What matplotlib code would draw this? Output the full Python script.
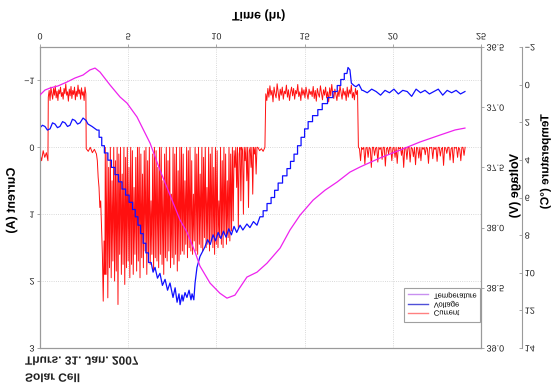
import numpy as np
import matplotlib
matplotlib.use("Agg")
import matplotlib.pyplot as plt
from matplotlib.lines import Line2D
from matplotlib.patheffects import AbstractPathEffect
from matplotlib.transforms import Affine2D
from matplotlib.text import Text

plt.rcParams["font.family"] = ["Liberation Sans", "DejaVu Sans"]

# ---- current (A): segments of values, each spread over its own time span (hr)
cur_spans = [(0.0, 0.45), (0.47, 2.6), (2.62, 3.2), (3.25, 3.68), (3.7, 12.3),
             (12.35, 12.75), (12.8, 18.0), (18.05, 24.1)]
cur_lead = [0.1, 0.2, 0.05, 0.15, 0.08, 0.2]
cur_plat1 = [-0.75, -0.85, -0.7, -0.9, -0.8, -0.72, -0.88, -0.78, -0.92, -0.74, -0.84,
             -0.7, -0.86, -0.8, -0.9, -0.76, -0.82, -0.72, -0.88, -0.8, -0.95, -0.78,
             -0.83, -0.69, -0.87, -0.77, -0.91, -0.73, -0.85, -0.79, -0.9, -0.71, -0.84,
             -0.76, -0.93, -0.8, -0.86, -0.72, -0.89, -0.78, -0.83, -0.7, -0.9, -0.8]
cur_mid = [0.02, 0.06, 0.0, 0.08, 0.03, 0.1]
cur_drop = [0.2, 0.45, 0.6, 0.9, 0.8, 1.2, 1.6, 2.3, 1.4, 1.9]
cur_switch = [0.0, 1.9, 0.1, 2.25, 0.3, 1.8, 0.0, 1.95, 0.5, 1.7, 0.0, 2.0, 0.2, 1.85, 0.0,
              2.35, 0.1, 1.6, 0.0, 1.9, 0.4, 1.75, 0.0, 2.05, 0.15, 1.8, 0.0, 1.7, 0.3, 1.95,
              0.0, 1.75, 0.05, 1.9, 0.6, 1.6, 0.15, 1.85, 0.0, 1.7, 0.0, 1.95, 0.1, 1.65, 0.4,
              1.8, 0.05, 1.55, 0.0, 1.9, 0.2, 1.7, 0.0, 1.75, 0.8, 1.6, 0.1, 1.85, 0.0, 1.65,
              0.05, 1.7, 0.3, 1.8, 0.0, 1.6, 0.0, 1.75, 0.5, 1.9, 0.1, 1.65, 0.0, 1.7, 0.2,
              1.55, 0.0, 1.8, 0.7, 1.65, 0.0, 1.75, 0.1, 1.6, 0.0, 1.85, 0.35, 1.7, 0.0, 1.6,
              0.0, 1.55, 0.1, 1.6, 0.5, 1.45, 0.0, 1.65, 0.05, 1.5, 0.0, 1.55, 0.2, 1.6, 0.7,
              1.4, 0.0, 1.55, 0.1, 1.6, 0.0, 1.45, 0.4, 1.5, 0.0, 1.55, 0.15, 1.35, 0.0, 1.5,
              0.6, 1.45, 0.0, 1.55, 0.1, 1.4, 0.0, 1.5, 0.3, 1.6, 0.0, 1.45, 0.05, 1.5, 0.8,
              1.35, 0.0, 1.45, 0.2, 1.5, 0.0, 1.3, 0.1, 1.45, 0.5, 1.35, 0.0, 1.4, 0.1, 1.25,
              0.0, 1.1, 0.05, 0.3, 0.0, 0.6, 0.0, 1.2, 0.1, 0.0, 0.8, 0.0, 0.05, 1.0, 0.0,
              0.2, 0.0, 0.5, 0.0, 0.9, 0.05, 0.0, 0.3, 0.0, 0.7, 0.0, 0.1, 0.0, 0.4, 0.0]
cur_gap = [0.0, 0.05, 0.02, 0.06, 0.0]
cur_plat2 = [-0.8, -0.7, -0.88, -0.75, -0.92, -0.78, -0.85, -0.68, -0.9, -0.8, -0.74, -0.95,
             -0.82, -0.7, -0.87, -0.78, -0.9, -0.72, -0.84, -0.8, -0.93, -0.75, -0.86, -0.7,
             -0.82, -0.9, -0.77, -0.88, -0.72, -0.85, -0.8, -0.94, -0.76, -0.83, -0.7, -0.89,
             -0.78, -0.86, -0.74, -0.9, -0.8, -0.72, -0.87, -0.79, -0.84, -0.76, -0.91, -0.73,
             -0.85, -0.69, -0.88, -0.8, -0.75, -0.92, -0.81, -0.71, -0.86, -0.78, -0.9, -0.74,
             -0.83, -0.68, -0.89, -0.77, -0.94, -0.8, -0.73, -0.87, -0.79, -0.7, -0.85, -0.76,
             -0.92, -0.82, -0.72, -0.88, -0.78, -0.84, -0.7, -0.9, -0.75, -0.86, -0.8, -0.93,
             -0.74, -0.82, -0.71, -0.88, -0.79, -0.85]
cur_tail = [0.0, 0.02, 0.2, 0.0, 0.03, 0.0, 0.25, 0.01, 0.0, 0.15, 0.0, 0.02, 0.3, 0.0, 0.0,
            0.12, 0.01, 0.0, 0.22, 0.0, 0.03, 0.0, 0.18, 0.0, 0.0, 0.28, 0.02, 0.0, 0.1, 0.0,
            0.0, 0.2, 0.01, 0.0, 0.15, 0.0, 0.24, 0.0, 0.02, 0.0, 0.12, 0.0, 0.3, 0.01, 0.0,
            0.18, 0.0, 0.0, 0.22, 0.0, 0.02, 0.14, 0.0, 0.26, 0.0, 0.01, 0.16, 0.0, 0.2, 0.0,
            0.03, 0.0, 0.11, 0.0, 0.02, 0.24, 0.0, 0.01, 0.0, 0.17, 0.0, 0.03, 0.0, 0.21, 0.0,
            0.0, 0.13, 0.02, 0.0, 0.27, 0.0, 0.01, 0.09, 0.0, 0.0, 0.19, 0.02, 0.0, 0.23, 0.0,
            0.01, 0.0, 0.15, 0.0, 0.03, 0.2, 0.0, 0.0, 0.12, 0.0]
cur_segs = [cur_lead, cur_plat1, cur_mid, cur_drop, cur_switch, cur_gap, cur_plat2, cur_tail]

# ---- voltage (V)
volt_t = [0.00, 0.14, 0.28, 0.42, 0.57, 0.71, 0.85, 0.99, 1.13, 1.28, 1.42, 1.56, 1.70, 1.84,
          1.98, 2.13, 2.27, 2.44, 2.61, 2.72, 2.95, 3.23, 3.35, 3.35, 3.50, 3.50, 3.65, 3.65,
          3.85, 3.85, 4.05, 4.05, 4.25, 4.25, 4.45, 4.45, 4.65, 4.65, 4.85, 4.85, 5.05, 5.05,
          5.25, 5.25, 5.40, 5.40, 5.55, 5.55, 5.70, 5.70, 5.85, 5.85, 6.00, 6.00, 6.15, 6.15,
          6.30, 6.41, 6.52, 6.66, 6.80, 6.94, 7.09, 7.23, 7.37, 7.54, 7.66, 7.77, 7.88, 7.94,
          8.05, 8.11, 8.22, 8.33, 8.45, 8.56, 8.62, 8.72, 8.79, 8.90, 9.07, 9.35, 9.50, 9.65,
          9.81, 9.95, 10.10, 10.25, 10.40, 10.55, 10.70, 10.85, 11.00, 11.15, 11.34, 11.50,
          11.73, 11.90, 12.10, 12.30, 12.47, 12.65, 12.65, 12.87, 12.87, 13.10, 13.10, 13.30,
          13.30, 13.50, 13.50, 13.75, 13.75, 14.00, 14.00, 14.20, 14.20, 14.40, 14.40, 14.60,
          14.60, 14.80, 14.80, 15.00, 15.00, 15.20, 15.20, 15.45, 15.45, 15.75, 15.75, 16.00,
          16.00, 16.30, 16.30, 16.60, 16.60, 16.85, 16.85, 17.05, 17.05, 17.25, 17.25, 17.40,
          17.46, 17.57, 17.65, 17.80, 17.91, 18.08, 18.25]
volt_v = [37.17, 37.15, 37.16, 37.19, 37.18, 37.13, 37.14, 37.17, 37.16, 37.12, 37.13, 37.16,
          37.15, 37.10, 37.11, 37.14, 37.13, 37.09, 37.11, 37.14, 37.16, 37.19, 37.19, 37.25,
          37.25, 37.32, 37.32, 37.38, 37.38, 37.44, 37.44, 37.50, 37.50, 37.56, 37.56, 37.62,
          37.62, 37.68, 37.68, 37.73, 37.73, 37.79, 37.79, 37.85, 37.85, 37.91, 37.91, 37.98,
          37.98, 38.05, 38.05, 38.13, 38.13, 38.21, 38.21, 38.29, 38.29, 38.37, 38.33, 38.42,
          38.38, 38.48, 38.43, 38.52, 38.46, 38.58, 38.50, 38.62, 38.55, 38.64, 38.56, 38.61,
          38.54, 38.58, 38.52, 38.60, 38.55, 38.60, 38.46, 38.33, 38.24, 38.16, 38.10, 38.14,
          38.06, 38.11, 38.04, 38.09, 38.03, 38.08, 38.01, 38.06, 37.99, 38.04, 37.98, 38.02,
          37.97, 38.00, 37.95, 37.98, 37.91, 37.91, 37.86, 37.86, 37.80, 37.80, 37.75, 37.75,
          37.69, 37.69, 37.63, 37.63, 37.57, 37.57, 37.51, 37.51, 37.45, 37.45, 37.39, 37.39,
          37.32, 37.32, 37.25, 37.25, 37.18, 37.18, 37.12, 37.12, 37.07, 37.07, 37.02, 37.02,
          36.97, 36.97, 36.92, 36.92, 36.87, 36.87, 36.82, 36.82, 36.77, 36.77, 36.72, 36.72,
          36.67, 36.69, 36.80, 36.82, 36.83, 36.81, 36.86]
volt_flat_span = (18.3, 24.09)
volt_flat = [36.86, 36.88, 36.85, 36.87, 36.90, 36.86, 36.88, 36.85, 36.89, 36.86, 36.87,
             36.91, 36.85, 36.88, 36.86, 36.89, 36.87, 36.85, 36.90, 36.86, 36.88, 36.86,
             36.89, 36.87]

# ---- temperature (deg C)
temp_t = [0.00, 0.28, 0.57, 1.02, 1.53, 1.98, 2.44, 2.83, 3.12, 3.40, 3.97, 4.54, 4.93, 5.50,
          6.24, 6.80, 7.37, 7.94, 8.33, 8.79, 9.07, 9.64, 10.20, 10.60, 11.05, 11.73, 12.30,
          12.87, 13.61, 14.17, 14.74, 15.48, 16.16, 16.84, 17.57, 18.14, 19.27, 20.41, 21.54,
          22.68, 23.53, 24.09]
temp_v = [0.55, 0.29, 0.18, 0.07, -0.14, -0.35, -0.51, -0.78, -0.88, -0.67, 0.02, 0.66, 0.98,
          1.72, 3.11, 4.54, 5.87, 7.20, 7.84, 8.90, 9.65, 10.55, 11.09, 11.35, 11.19, 10.23,
          9.97, 9.49, 8.69, 7.73, 6.94, 6.14, 5.61, 5.18, 4.65, 4.38, 3.90, 3.48, 3.05, 2.68,
          2.41, 2.31]

time_ticks = [0, 5, 10, 15, 20, 25]
cur_ticks = [-1, 0, 1, 2, 3]
volt_ticks = [36.5, 37.0, 37.5, 38.0, 38.5, 39.0]
temp_ticks = [-2, 0, 2, 4, 6, 8, 10, 12, 14]


class VFlip(AbstractPathEffect):
    """Mirror a text path top-to-bottom about its own centre."""

    def draw_path(self, renderer, gc, tpath, affine, rgbFace=None):
        bb = tpath.get_extents(affine)
        c = 0.5 * (bb.y0 + bb.y1)
        flip = affine + Affine2D().translate(0, -c).scale(1, -1).translate(0, c)
        renderer.draw_path(gc, tpath, flip, rgbFace)


GRAY = "#9a9a9a"
cur_t = np.concatenate([np.linspace(a, b, len(v)) for (a, b), v in zip(cur_spans, cur_segs)])
cur_v = np.concatenate([np.asarray(v, float) for v in cur_segs])
vt = np.concatenate([volt_t, np.linspace(*volt_flat_span, len(volt_flat))])
vv = np.concatenate([volt_v, volt_flat])

fig = plt.figure(figsize=(5.52, 3.88), dpi=100)
ax = fig.add_axes([40 / 552, 40 / 388, 441 / 552, 301 / 388])
ax2 = ax.twinx()
ax3 = ax.twinx()

ax.plot(cur_t, cur_v, color="#ff1010", lw=0.7)
ax2.plot(vt, vv, color="#1010ff", lw=0.9)
ax3.plot(temp_t, temp_v, color="#ee22ee", lw=0.9)

ax.set_xlim(0, 25)
ax.set_ylim(3, -1.5)
ax2.set_ylim(39.0, 36.5)
ax3.set_ylim(14, -2)
ax.set_xticks(time_ticks)
ax.set_yticks(cur_ticks)
ax2.set_yticks(volt_ticks)
ax2.set_yticklabels([f"{v:.1f}" for v in volt_ticks])
ax3.set_yticks(temp_ticks)

ax.xaxis.tick_top()
ax.xaxis.set_label_position("top")
ax.grid(True, color="#cccccc", ls=":", lw=0.6)

for a in (ax, ax2, ax3):
    for s in a.spines.values():
        s.set_color(GRAY)
    a.tick_params(labelsize=6.5, colors=GRAY, labelcolor="#222222", length=2, width=0.6, pad=2)
ax3.spines["right"].set_position(("outward", 29.5))
for s in ("left", "top", "bottom"):
    ax3.spines[s].set_visible(False)
ax3.tick_params(direction="in")

ax.set_xlabel("Time (hr)", fontsize=9, fontweight="bold")
ax.xaxis.set_label_coords(0.496, 1.105)
ax.xaxis.label.set_va("center")
ax.set_ylabel("Current (A)", fontsize=9, fontweight="bold")
ax.yaxis.set_label_coords(-0.064, 0.49)
ax.yaxis.label.set_va("center")
ax2.set_ylabel("Voltage (V)", fontsize=9, fontweight="bold", rotation=90)
ax2.yaxis.set_label_coords(1.077, 0.54)
ax2.yaxis.label.set_va("center")
ax3.set_ylabel("Temperature (°C)", fontsize=8.5, fontweight="bold", rotation=90)
ax3.yaxis.set_label_coords(1.146, 0.62)
ax3.yaxis.label.set_va("center")

fig.text(25 / 552, 1 - 362 / 388, "Thurs. 31. Jan. 2007", fontsize=8.6, fontweight="bold",
         va="center", ha="left", color="#222222")
fig.text(25 / 552, 1 - 379 / 388, "Solar Cell", fontsize=8.6, fontweight="bold",
         va="center", ha="left", color="#222222")

handles = [Line2D([], [], color="#c890f0", lw=1, label="Temperature"),
           Line2D([], [], color="#5050d8", lw=1, label="Voltage"),
           Line2D([], [], color="#ff8080", lw=1, label="Current")]
leg = ax3.legend(handles=handles, loc="upper left", bbox_to_anchor=(404 / 552, 1 - 288 / 388),
                 bbox_transform=fig.transFigure, fontsize=5.5, frameon=True, fancybox=False,
                 edgecolor="#888888", handlelength=2.6, labelspacing=0.25, borderpad=0.5,
                 handletextpad=0.8, borderaxespad=0)
leg.get_frame().set_linewidth(0.8)

fig.canvas.draw()
for txt in fig.findobj(Text):
    if txt.get_text():
        txt.set_path_effects([VFlip()])
fig.savefig("out.png", dpi=100)
